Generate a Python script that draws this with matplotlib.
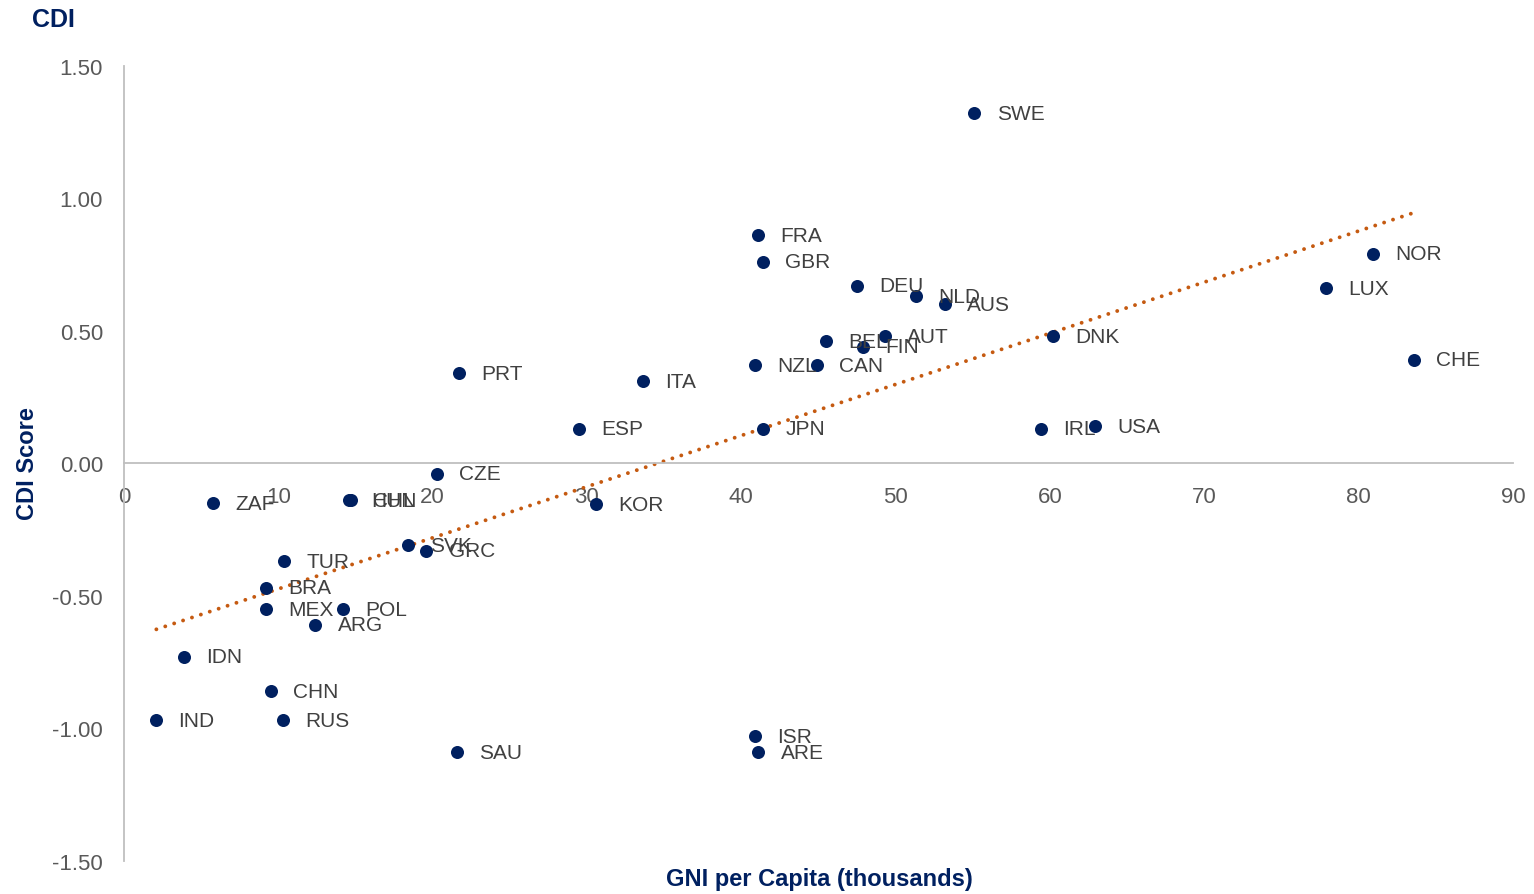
import numpy as np
import matplotlib.pyplot as plt

plt.rcParams['font.family'] = ['Liberation Sans', 'DejaVu Sans']

# Country codes, GNI per capita (thousands) and CDI score
countries = ['SWE', 'FRA', 'GBR', 'DEU', 'NLD', 'AUS', 'BEL', 'FIN', 'AUT', 'DNK',
             'NOR', 'LUX', 'CHE', 'NZL', 'CAN', 'PRT', 'ITA', 'ESP', 'JPN', 'IRL',
             'USA', 'CZE', 'ZAF', 'HUN', 'CHL', 'KOR', 'SVK', 'GRC', 'TUR', 'BRA',
             'MEX', 'POL', 'ARG', 'IDN', 'CHN', 'IND', 'RUS', 'SAU', 'ISR', 'ARE']
gni = [55.1, 41.1, 41.4, 47.5, 51.3, 53.2, 45.5, 47.9, 49.3, 60.2,
       80.9, 77.9, 83.6, 40.9, 44.9, 21.7, 33.6, 29.5, 41.4, 59.4,
       62.9, 20.3, 5.8, 14.6, 14.7, 30.6, 18.4, 19.6, 10.4, 9.2,
       9.2, 14.2, 12.4, 3.9, 9.5, 2.1, 10.3, 21.6, 40.9, 41.1]
cdi = [1.32, 0.86, 0.76, 0.67, 0.63, 0.60, 0.46, 0.44, 0.48, 0.48,
       0.79, 0.66, 0.39, 0.37, 0.37, 0.34, 0.31, 0.13, 0.13, 0.13,
       0.14, -0.04, -0.15, -0.14, -0.14, -0.155, -0.31, -0.33, -0.37, -0.47,
       -0.55, -0.55, -0.61, -0.73, -0.86, -0.97, -0.97, -1.09, -1.03, -1.09]

x_ticks = [0, 10, 20, 30, 40, 50, 60, 70, 80, 90]
y_ticks = [-1.5, -1.0, -0.5, 0.0, 0.5, 1.0, 1.5]

navy = '#002060'
grey = '#595959'

fig = plt.figure(figsize=(15.34, 8.95), dpi=100)
ax = fig.add_axes([0.0808, 0.037, 0.9055, 0.8885])

ax.scatter(gni, cdi, s=88, color=navy, zorder=3, linewidths=0)
for name, x, y in zip(countries, gni, cdi):
    ax.annotate(name, (x, y), xytext=(16, 0), textcoords='offset points',
                va='center', ha='left', fontsize=15, color='#404040', zorder=4)

# linear trendline
slope, intercept = np.polyfit(gni, cdi, 1)
xs = np.array([min(gni), max(gni)])
ax.plot(xs, slope * xs + intercept, color='#C55A11', lw=2.8,
        dashes=(0.01, 2.4), dash_capstyle='round', zorder=2)

ax.set_xlim(0, 90)
ax.set_ylim(-1.5, 1.5)
ax.set_xticks(x_ticks)
ax.set_yticks(y_ticks)
ax.set_yticklabels([f'{v:.2f}' for v in y_ticks])

for side in ['top', 'right']:
    ax.spines[side].set_visible(False)
ax.spines['bottom'].set_position(('data', 0))
ax.spines['left'].set_color('#BFBFBF')
ax.spines['bottom'].set_color('#BFBFBF')
ax.spines['left'].set_linewidth(1.3)
ax.spines['bottom'].set_linewidth(1.3)
ax.tick_params(axis='both', length=0, labelsize=16, colors=grey)
ax.tick_params(axis='x', pad=16)
ax.tick_params(axis='y', pad=15)

fig.text(0.021, 0.978, 'CDI', fontsize=18, fontweight='bold', color=navy,
         ha='left', va='center')
fig.text(0.018, 0.482, 'CDI Score', fontsize=17, fontweight='bold', color=navy,
         rotation=90, ha='center', va='center')
fig.text(0.534, 0.017, 'GNI per Capita (thousands)', fontsize=17,
         fontweight='bold', color=navy, ha='center', va='center')

fig.savefig('out.png', dpi=100)
